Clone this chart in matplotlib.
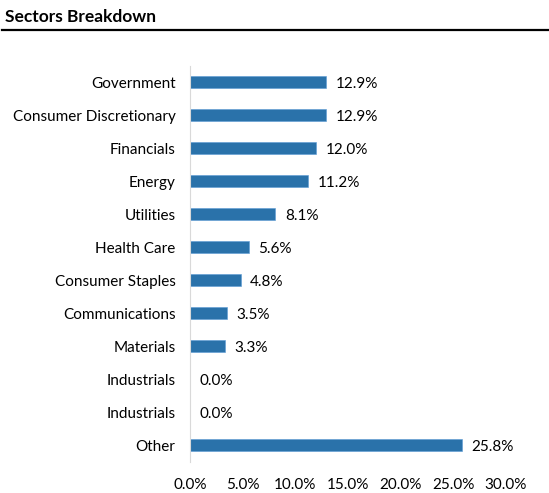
import matplotlib
matplotlib.use("Agg")
import matplotlib.pyplot as plt
from matplotlib.ticker import FuncFormatter

plt.rcParams['font.family'] = ['Lato', 'DejaVu Sans']

categories = ["Government", "Consumer Discretionary", "Financials", "Energy", "Utilities",
              "Health Care", "Consumer Staples", "Communications", "Materials",
              "Industrials", "Industrials", "Other"]
values = [12.9, 12.9, 12.0, 11.2, 8.1, 5.6, 4.8, 3.5, 3.3, 0.0, 0.0, 25.8]
xticks = [0, 5, 10, 15, 20, 25, 30]

fig = plt.figure(figsize=(5.49, 4.93), dpi=100)
fig.text(5/549, 1-17/493, "Sectors Breakdown", fontsize=12.5, fontweight='bold', va='center', ha='left')
fig.add_artist(plt.Line2D([2/549, 1], [1-29.5/493]*2, color='black', lw=1.6, transform=fig.transFigure))

ax = fig.add_axes([190/549, 1-461.5/493, (506-190)/549, 396/493])
pos = list(range(len(categories)))
ax.barh(pos, values, height=0.36, color='#2A72AA', edgecolor='#5B9BD5', linewidth=0.4)
for p, v in zip(pos, values):
    ax.text(v + 0.9, p + 0.05, f"{v:.1f}%", va='center', ha='left', fontsize=11)
ax.set_yticks(pos)
ax.set_yticklabels(categories, fontsize=11)
ax.set_ylim(len(categories) - 0.5, -0.5)
ax.set_xlim(0, 30)
ax.set_xticks(xticks)
ax.xaxis.set_major_formatter(FuncFormatter(lambda x, _: f"{x:.1f}%"))
ax.tick_params(axis='x', labelsize=11, length=0, pad=12)
ax.tick_params(axis='y', length=0, pad=10.5)
for s in ['top', 'right', 'bottom']:
    ax.spines[s].set_visible(False)
ax.spines['left'].set_color('#D9D9D9')
ax.spines['left'].set_linewidth(0.8)
fig.savefig("out.png", dpi=100)
